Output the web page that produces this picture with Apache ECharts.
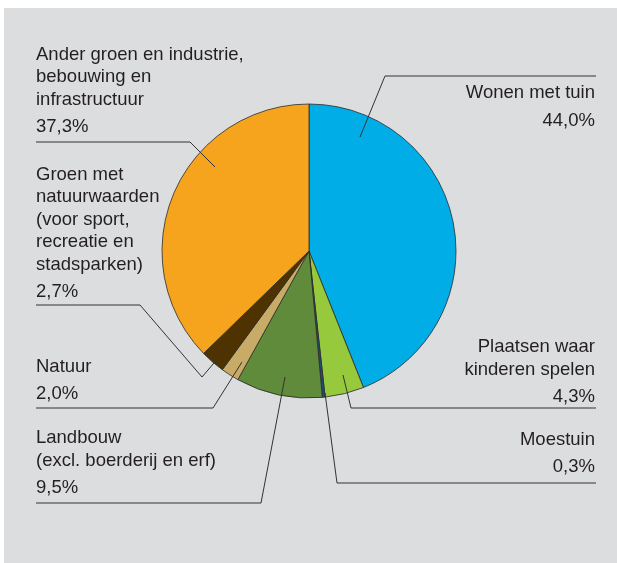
<!DOCTYPE html>
<html>
<head>
<meta charset="utf-8">
<script src="https://cdn.jsdelivr.net/npm/echarts@6/dist/echarts.min.js"></script>
<style>
  html, body { margin: 0; padding: 0; background: #fff; }
  #chart { width: 617px; height: 563px; }
</style>
</head>
<body>
<div id="chart"></div>
<script>
// land use shares, clockwise from the top
var names = [
  'Wonen met tuin',
  'Plaatsen waar\nkinderen spelen',
  'Moestuin',
  'Landbouw\n(excl. boerderij en erf)',
  'Natuur',
  'Groen met\nnatuurwaarden\n(voor sport,\nrecreatie en\nstadsparken)',
  'Ander groen en industrie,\nbebouwing en\ninfrastructuur'
];
var values = [44.0, 4.3, 0.3, 9.5, 2.0, 2.7, 37.3];
var colors = ['#00ade6', '#97c93d', '#1f4d7c', '#5f8b3b', '#c8ab66', '#4e3300', '#f6a41e'];

// label placement: text anchor + leader line points (page pixels)
var labelPos = [
  { x: 595, y: 82, align: 'right', va: 'top', line: [[360, 137], [385, 76], [596, 76]] },
  { x: 595, y: 413, align: 'right', va: 'bottom', line: [[343, 375], [351, 408], [596, 408]] },
  { x: 595, y: 483, align: 'right', va: 'bottom', line: [[325, 393], [337, 483], [596, 483]] },
  { x: 36, y: 504, align: 'left', va: 'bottom', line: [[285, 377], [261, 503], [36, 503]] },
  { x: 36, y: 410, align: 'left', va: 'bottom', line: [[242, 362], [213, 408], [36, 408]] },
  { x: 36, y: 308, align: 'left', va: 'bottom', line: [[226, 349], [202, 377], [140, 305], [36, 305]] },
  { x: 36, y: 143, align: 'left', va: 'bottom', line: [[215, 167], [190, 142], [36, 142]] }
];

function fmtPct(v) { return v.toFixed(1).replace('.', ',') + '%'; }

var chart = echarts.init(document.getElementById('chart'));
var fontFam = "'Liberation Sans', Arial, sans-serif";

var pieBase = {
  type: 'pie',
  center: [309, 251],
  radius: 147,
  startAngle: 90,
  clockwise: true,
  avoidLabelOverlap: false
};

chart.setOption({
  backgroundColor: '#fff',
  animation: false,
  graphic: [{
    type: 'rect', left: 4, top: 8, z: -10,
    shape: { width: 613, height: 555 },
    style: { fill: '#dcdddf' }
  }],
  series: [
    Object.assign({}, pieBase, {
      z: 2,
      itemStyle: { borderColor: '#2b2b2b', borderWidth: 0.8 },
      label: { show: false },
      labelLine: { show: false },
      data: values.map(function (v, i) {
        return { name: names[i], value: v, itemStyle: { color: colors[i] } };
      })
    }),
    // transparent copy on top, only carries labels and leader lines
    Object.assign({}, pieBase, {
      z: 5,
      silent: true,
      itemStyle: { color: 'rgba(0,0,0,0)', borderWidth: 0 },
      label: {
        show: true,
        position: 'outside',
        color: '#231f20',
        fontFamily: fontFam,
        formatter: function (p) {
          var lines = p.name.split('\n').map(function (s) { return '{n|' + s + '}'; });
          return lines.join('\n') + '\n{p|' + fmtPct(p.value) + '}';
        },
        rich: {
          n: { fontSize: 18.5, lineHeight: 22.5, fontFamily: fontFam, color: '#231f20' },
          p: { fontSize: 18.5, lineHeight: 32, fontFamily: fontFam, color: '#231f20' }
        }
      },
      labelLine: { show: true, lineStyle: { color: '#333', width: 1 } },
      labelLayout: function (params) {
        var lp = labelPos[params.dataIndex];
        return {
          x: lp.x, y: lp.y, align: lp.align, verticalAlign: lp.va,
          labelLinePoints: lp.line
        };
      },
      data: values.map(function (v, i) {
        return { name: names[i], value: v };
      })
    })
  ]
});
</script>
</body>
</html>
